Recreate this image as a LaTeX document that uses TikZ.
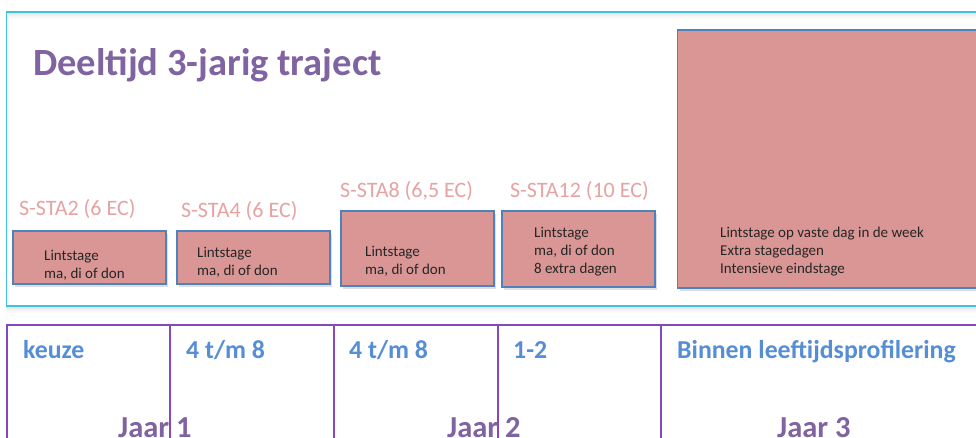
\documentclass[tikz,border=0pt]{standalone}
\usepackage{fontspec}
\setmainfont{Carlito}
\usetikzlibrary{shadows}
\definecolor{cyanframe}{HTML}{3EC1E4}
\definecolor{titlepurple}{HTML}{8064A2}
\definecolor{boxfill}{HTML}{D99694}
\definecolor{boxline}{HTML}{4F81BD}
\definecolor{labelpink}{HTML}{E6A3A2}
\definecolor{headblue}{HTML}{558ED5}
\definecolor{gridpurple}{HTML}{8549BD}
\begin{document}
\begin{tikzpicture}[x=1pt,y=-1pt,
  stagebox/.style={draw=boxline,line width=1.1pt,fill=boxfill,
    drop shadow={shadow xshift=2pt,shadow yshift=-2.5pt,opacity=0.25}},
  eclabel/.style={anchor=base west,inner sep=0pt,text=labelpink,font=\fontsize{22}{25}\selectfont},
  boxtext/.style={anchor=north west,inner sep=0pt,align=left,text=black!85,
    font=\fontsize{15}{18}\selectfont},
  headtext/.style={anchor=base west,inner sep=0pt,text=headblue,font=\bfseries\fontsize{25.8}{28}\selectfont},
  jaartext/.style={anchor=base west,inner sep=0pt,text=titlepurple,font=\bfseries\fontsize{30.5}{34}\selectfont},
  grid/.style={draw=gridpurple,line width=1.3pt}]
\useasboundingbox (0,0) rectangle (976,437);
\fill[white] (0,0) rectangle (976,437);
% soft shadows of the frame
\foreach \i/\o in {1/0.10,2/0.08,3/0.06,4/0.04,5/0.03,6/0.02}{
  \fill[black,opacity=\o] (6,306+\i) rectangle (990,307+\i);
  \fill[black,opacity=\o] (6,12+\i) rectangle (990,13+\i);
}
\draw[cyanframe,line width=1.4pt] (990,12) -- (6.5,12) -- (6.5,306) -- (990,306);
% title
\node[anchor=base west,inner sep=0pt,text=titlepurple,font=\bfseries\fontsize{38.5}{44}\selectfont] (title) at (33,75) {Deeltijd 3-jarig traject};
% boxes
\node[stagebox,minimum width=153pt,minimum height=53pt,inner sep=0pt] (b1) at (89.5,257.5) {};
\node[stagebox,minimum width=153pt,minimum height=53pt,inner sep=0pt] (b2) at (253.5,257.5) {};
\node[stagebox,minimum width=153pt,minimum height=75pt,inner sep=0pt] (b3) at (417.5,248.5) {};
\node[stagebox,minimum width=153pt,minimum height=76pt,inner sep=0pt] (b4) at (578.5,249) {};
\path[stagebox] (990,30) -- (677.5,30) -- (677.5,288) -- (990,288);
\coordinate (b5) at (677.5,30);
% EC labels
\node[eclabel] (l1) at (19,215.5) {S-STA2 (6 EC)};
\node[eclabel] (l2) at (181,217) {S-STA4 (6 EC)};
\node[eclabel] (l3) at (340,197.5) {S-STA8 (6,5 EC)};
\node[eclabel] (l4) at (510,197.5) {S-STA12 (10 EC)};
% box texts
\node[boxtext] (t1) at (44,250) {Lintstage\\ma, di of don};
\node[boxtext] (t2) at (197,247) {Lintstage\\ma, di of don};
\node[boxtext] (t3) at (365,246) {Lintstage\\ma, di of don};
\node[boxtext] (t4) at (534,227) {Lintstage\\ma, di of don\\8 extra dagen};
\node[boxtext] (t5) at (720,226.5) {Lintstage op vaste dag in de week\\Extra stagedagen\\Intensieve eindstage};
% bottom grid
\draw[grid] (990,325) -- (7,325) -- (7,440);
\foreach \x in {170,334,498,661}{\draw[grid] (\x,325) -- (\x,440);}
\node[headtext] (h1) at (23,358) {keuze};
\node[headtext] (h2) at (186,358) {4 t/m 8};
\node[headtext] (h3) at (349,358) {4 t/m 8};
\node[headtext] (h4) at (513,358) {1-2};
\node[headtext] (h5) at (677,358) {Binnen leeftijdsprofilering};
\node[jaartext] (j1) at (118,437) {Jaar 1};
\node[jaartext] (j2) at (447,437) {Jaar 2};
\node[jaartext] (j3) at (777,437) {Jaar 3};
\end{tikzpicture}
\end{document}
